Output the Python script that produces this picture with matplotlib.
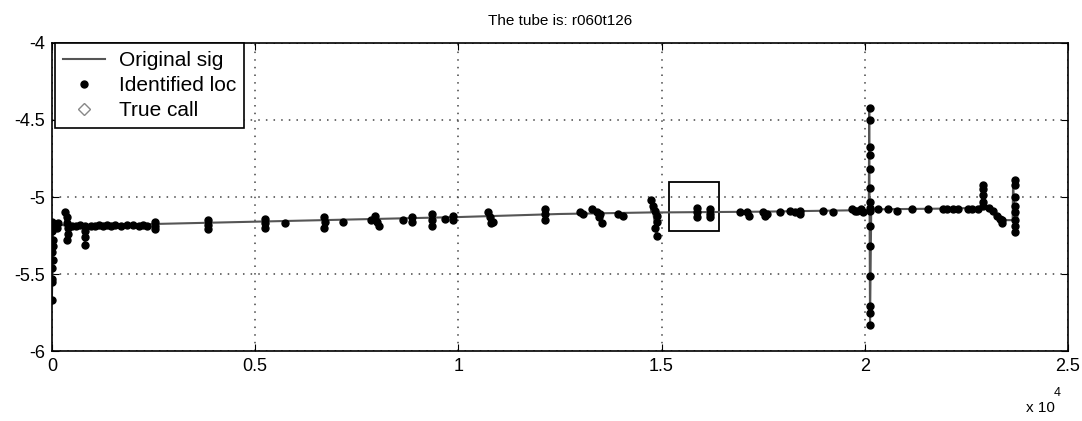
import matplotlib
matplotlib.use("Agg")
import matplotlib.pyplot as plt
from matplotlib.ticker import FuncFormatter, MultipleLocator

plt.rcParams["font.family"] = ["Liberation Sans", "DejaVu Sans"]

title = "The tube is: r060t126"

# original signal (sample index, value)
sig_x = [0, 30, 320, 330, 400, 450, 800, 810, 850, 2500, 5000, 7500, 10000,
         12500, 14740, 14750, 14880, 14950, 17500, 20000, 20100, 20110,
         20130, 20160, 22000, 22880, 22900, 22950, 23100, 23400, 23640,
         23650, 23700, 23760]
sig_y = [-5.66, -5.17, -5.185, -5.11, -5.25, -5.18, -5.185, -5.30, -5.19,
         -5.175, -5.16, -5.145, -5.13, -5.11, -5.10, -5.02, -5.25, -5.10,
         -5.095, -5.085, -5.085, -4.42, -5.83, -5.08, -5.075, -5.07, -4.92,
         -5.07, -5.09, -5.15, -5.15, -4.89, -5.23, -5.12]

# identified locations
loc_x = [0, 0, 0, 30, 30, 0, 30, 0, 0, 0, 0, 80, 120, 150,
         330, 370, 370, 400, 400, 380, 500, 600, 700,
         810, 810, 820, 810, 950, 1050, 1150, 1250, 1350, 1450, 1550, 1700,
         1850, 2000, 2150, 2250, 2350,
         2530, 2530, 2530, 3840, 3840, 3840, 5240, 5240, 5240, 5730,
         6700, 6720, 6700, 7160, 7850, 7950, 8000, 8050,
         8630, 8860, 8860, 9350, 9350, 9350, 9670, 9860, 9860,
         10730, 10780, 10850, 10800, 12130, 12130, 12130,
         12990, 13060, 13300, 13400, 13450, 13530, 13480, 13920, 14050,
         14750, 14800, 14850, 14900, 14900, 14850, 14880,
         15870, 15870, 15870, 16190, 16190, 16190,
         16930, 17100, 17150, 17490, 17590, 17540, 17910,
         18150, 18280, 18400, 18400, 18970, 19210,
         19680, 19750, 19820, 19900, 19950,
         20120, 20120, 20120, 20120, 20120, 20120, 20120, 20120, 20120,
         20120, 20120, 20120, 20120, 20120, 20120,
         20320, 20570, 20790, 21175, 21550, 21925, 22020, 22170, 22290,
         22530, 22650, 22780,
         22900, 22900, 22900, 22900, 22900,
         23070, 23150, 23250, 23320, 23370, 23370,
         23700, 23700, 23700, 23700, 23700, 23700, 23700, 23700]
loc_y = [-5.16, -5.19, -5.22, -5.28, -5.32, -5.36, -5.41, -5.46, -5.53, -5.55,
         -5.67, -5.18, -5.20, -5.17,
         -5.10, -5.13, -5.17, -5.20, -5.24, -5.28, -5.19, -5.19, -5.18,
         -5.19, -5.22, -5.26, -5.31, -5.19, -5.19, -5.18, -5.19, -5.18, -5.19,
         -5.18, -5.19, -5.18, -5.18, -5.19, -5.18, -5.19,
         -5.16, -5.19, -5.21, -5.15, -5.18, -5.21, -5.14, -5.17, -5.20, -5.17,
         -5.13, -5.16, -5.20, -5.16, -5.15, -5.12, -5.16, -5.19,
         -5.15, -5.13, -5.16, -5.11, -5.15, -5.19, -5.14, -5.12, -5.15,
         -5.10, -5.13, -5.16, -5.17, -5.08, -5.11, -5.15,
         -5.10, -5.11, -5.08, -5.10, -5.13, -5.17, -5.11, -5.11, -5.12,
         -5.02, -5.06, -5.09, -5.12, -5.16, -5.20, -5.25,
         -5.07, -5.10, -5.13, -5.08, -5.11, -5.13,
         -5.10, -5.10, -5.12, -5.10, -5.11, -5.12, -5.10,
         -5.09, -5.10, -5.09, -5.11, -5.09, -5.10,
         -5.08, -5.09, -5.09, -5.08, -5.10,
         -4.42, -4.50, -4.675, -4.73, -4.82, -4.94, -5.03, -5.07, -5.09,
         -5.19, -5.32, -5.51, -5.71, -5.75, -5.83,
         -5.08, -5.08, -5.09, -5.08, -5.08, -5.08, -5.08, -5.08, -5.08,
         -5.08, -5.08, -5.08,
         -4.92, -4.95, -4.99, -5.03, -5.06,
         -5.07, -5.09, -5.12, -5.14, -5.15, -5.17,
         -4.89, -4.92, -5.00, -5.06, -5.10, -5.15, -5.19, -5.23]

true_x = []
true_y = []

# highlighted window
box_x = [15180, 16410]
box_y = [-5.22, -4.90]

fig = plt.figure(figsize=(10.82, 4.21), dpi=100)
ax = fig.add_axes([0.048, 0.166, 0.939, 0.732])

ax.plot(sig_x, sig_y, color="#555555", lw=1.5, label="Original sig")
ax.plot(loc_x, loc_y, ".", color="black", ms=10, label="Identified loc")
ax.plot(true_x, true_y, "D", mfc="none", mec="#888888", ms=6, label="True call")
ax.add_patch(plt.Rectangle((box_x[0], box_y[0]), box_x[1] - box_x[0],
                           box_y[1] - box_y[0], fill=False, ec="black", lw=1.3))

ax.set_xlim(0, 25000)
ax.set_ylim(-6, -4)
ax.xaxis.set_major_locator(MultipleLocator(5000))
ax.yaxis.set_major_locator(MultipleLocator(0.5))
ax.xaxis.set_major_formatter(FuncFormatter(lambda v, p: "%g" % (v / 1e4)))
ax.yaxis.set_major_formatter(FuncFormatter(lambda v, p: "%g" % v))
ax.tick_params(direction="in", length=5, top=True, right=True, labelsize=13,
               pad=5, color="black")
ax.grid(True, color="#444444", linestyle=(0, (1, 4)), lw=1.1)
for s in ax.spines.values():
    s.set_linewidth(1.2)

ax.set_title(title, fontsize=11, pad=13)

leg = ax.legend(loc="upper left", bbox_to_anchor=(0.003, 1.0), fontsize=15,
                fancybox=False, framealpha=1, edgecolor="black",
                handlelength=2.0, handletextpad=0.7, borderpad=0.38,
                labelspacing=0.3, borderaxespad=0)
leg.get_frame().set_linewidth(1.2)

fig.text(1040 / 1082, 1 - 408 / 421, "x 10", fontsize=11, ha="center", va="center")
fig.text(1057 / 1082, 1 - 393 / 421, "4", fontsize=9, ha="center", va="center")

fig.savefig("out.png", dpi=100)
